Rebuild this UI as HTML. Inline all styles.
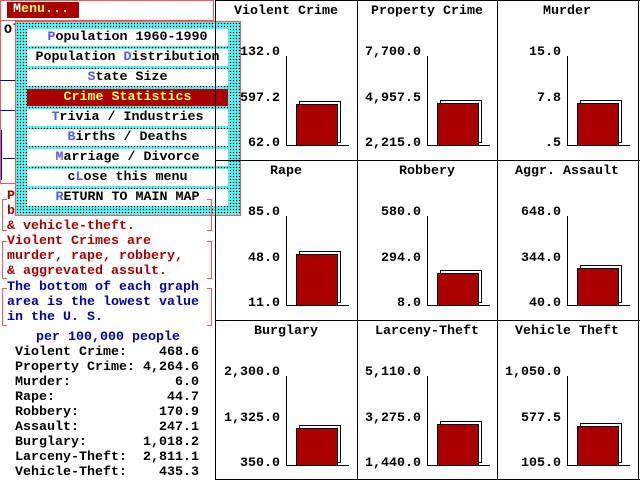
<!DOCTYPE html>
<html><head><meta charset="utf-8"><style>
*{margin:0;padding:0;box-sizing:border-box}
body{width:640px;height:480px;background:#fff;position:relative;overflow:hidden;font-family:"Liberation Mono",monospace;font-weight:bold;font-size:13.33px;color:#000}
.a{position:absolute;white-space:pre;line-height:16px}
.ln{position:absolute;background:#000}
.bar{position:absolute;background:#aa0000;border:1px solid #000}
.sh{position:absolute;background:#fff;border:1px solid #000}
.menu{position:absolute;left:15px;top:21px;width:226px;height:195px;background-color:#55ffff;background-image:radial-gradient(circle,#000 0.6px,transparent 0.9px);background-size:3px 3px;border:1px solid #ff5555}
.it{position:absolute;left:11px;width:201px;height:17px;background:#fff;text-align:center;line-height:17px;white-space:pre}
.hl{color:#5555ff}
.red{color:#aa0000}.blu{color:#0000aa}
.br{position:absolute;border:1px solid #ff5555;border-right:none;width:5px}
.brr{position:absolute;border:1px solid #ff5555;border-left:none;width:5px}
</style></head><body>
<div style="position:absolute;left:0;top:0;width:214px;height:21px;border:1px solid #ff5555"></div>
<div class="a" style="left:7px;top:2px;width:72px;height:16px;background:#aa0000;color:#ffff55;padding-left:6px"><span style="color:#fff">M</span>enu...</div>
<div style="position:absolute;left:0;top:20px;width:214px;height:164px;border:1px solid #ff5555"></div>
<div class="a" style="left:4px;top:23px">Ol</div>
<div style="position:absolute;left:0;top:80px;width:15px;height:1px;background:#0000aa"></div>
<div style="position:absolute;left:0;top:110px;width:15px;height:1px;background:#0000aa"></div>
<div style="position:absolute;left:1px;top:130px;width:1px;height:50px;background:#0000aa"></div>
<div style="position:absolute;left:3px;top:158px;width:12px;height:1px;background:#0000aa"></div>

<div class="menu">
<div class="it" style="top:7px"><span class="hl">P</span>opulation 1960-1990</div>
<div class="it" style="top:27px">Population <span class="hl">D</span>istribution</div>
<div class="it" style="top:47px"><span class="hl">S</span>tate Size</div>
<div class="it" style="top:67px;background:#aa0000;color:#ffff55">Crime Statistics</div>
<div class="it" style="top:87px"><span class="hl">T</span>rivia / Industries</div>
<div class="it" style="top:107px"><span class="hl">B</span>irths / Deaths</div>
<div class="it" style="top:127px"><span class="hl">M</span>arriage / Divorce</div>
<div class="it" style="top:147px">c<span class="hl">L</span>ose this menu</div>
<div class="it" style="top:167px"><span class="hl">R</span>ETURN TO MAIN MAP</div>
</div>

<div class="br" style="left:2px;top:199px;height:32px"></div><div class="brr" style="left:207px;top:199px;height:32px"></div>
<div class="a red" style="left:7px;top:189px">P</div>
<div class="a red" style="left:7px;top:204px">b</div>
<div class="a red" style="left:7px;top:219px">&amp; vehicle-theft.</div>
<div class="br" style="left:2px;top:241px;height:38px"></div><div class="brr" style="left:207px;top:241px;height:38px"></div>
<div class="a red" style="left:7px;top:234px;line-height:15px">Violent Crimes are
murder, rape, robbery,
&amp; aggrevated assult.</div>
<div class="br" style="left:2px;top:288px;height:38px"></div><div class="brr" style="left:207px;top:288px;height:38px"></div>
<div class="a blu" style="left:7px;top:280px;line-height:15px">The bottom of each graph
area is the lowest value
in the U. S.</div>
<div class="a blu" style="left:36px;top:330px">per 100,000 people</div>
<div class="a" style="left:15px;top:345px;line-height:15px">Violent Crime:    468.6
Property Crime: 4,264.6
Murder:             6.0
Rape:              44.7
Robbery:          170.9
Assault:          247.1
Burglary:       1,018.2
Larceny-Theft:  2,811.1
Vehicle-Theft:    435.3</div>

<div class="ln" style="left:215px;top:0;width:1px;height:480px"></div>
<div class="ln" style="left:357px;top:0;width:1px;height:480px"></div>
<div class="ln" style="left:497px;top:0;width:1px;height:480px"></div>
<div class="ln" style="left:638px;top:0;width:1px;height:480px"></div>
<div class="ln" style="left:215px;top:0;width:425px;height:1px"></div>
<div class="ln" style="left:215px;top:160px;width:425px;height:1px"></div>
<div class="ln" style="left:215px;top:320px;width:425px;height:1px"></div>
<div class="ln" style="left:215px;top:479px;width:425px;height:1px"></div>
<div id="c"></div>
<script>
var d=[["Violent Crime","132.0","597.2","62.0",104],["Property Crime","7,700.0","4,957.5","2,215.0",103],["Murder","15.0","7.8",".5",103],
["Rape","85.0","48.0","11.0",94],["Robbery","580.0","294.0","8.0",113],["Aggr. Assault","648.0","344.0","40.0",108],
["Burglary","2,300.0","1,325.0","350.0",108],["Larceny-Theft","5,110.0","3,275.0","1,440.0",104],["Vehicle Theft","1,050.0","577.5","105.0",106]];
var xs=[216,357,497],h="";
d.forEach(function(r,i){var x=xs[i%3],y=Math.floor(i/3)*160;
h+='<div class="a" style="left:'+x+'px;top:'+(y+4)+'px;width:140px;text-align:center">'+r[0]+'</div>';
h+='<div class="a" style="left:'+(x-2)+'px;top:'+(y+45)+'px;width:66px;text-align:right">'+r[1]+'</div>';
h+='<div class="a" style="left:'+(x-2)+'px;top:'+(y+91)+'px;width:66px;text-align:right">'+r[2]+'</div>';
h+='<div class="a" style="left:'+(x-2)+'px;top:'+(y+136)+'px;width:66px;text-align:right">'+r[3]+'</div>';
h+='<div class="ln" style="left:'+(x+70)+'px;top:'+(y+56)+'px;width:1px;height:90px"></div>';
h+='<div class="ln" style="left:'+(x+70)+'px;top:'+(y+145)+'px;width:63px;height:1px"></div>';
var t=y+r[4],bh=y+146-t;
h+='<div class="sh" style="left:'+(x+83)+'px;top:'+(t-3)+'px;width:42px;height:'+bh+'px"></div>';
h+='<div class="bar" style="left:'+(x+80)+'px;top:'+t+'px;width:42px;height:'+bh+'px"></div>';
});
document.getElementById("c").innerHTML=h;
</script>
</body></html>
